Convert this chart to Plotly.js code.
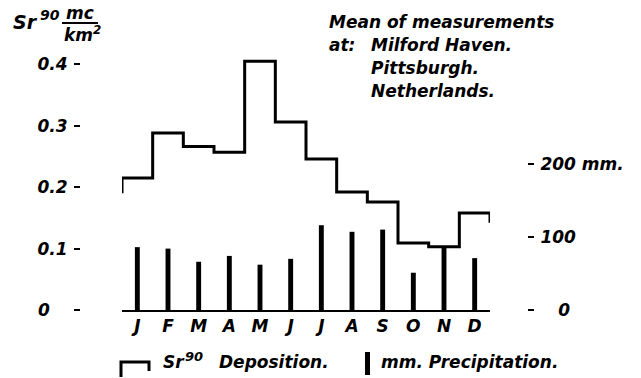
<!DOCTYPE html>
<html>
<head>
<meta charset="utf-8">
<script src="https://cdn.plot.ly/plotly-3.0.1.min.js"></script>
<style>html,body{margin:0;padding:0;background:#fff;}#chart{width:641px;height:378px;}</style>
</head>
<body>
<div id="chart"></div>
<script>
// ---- data ----
const months = ['J','F','M','A','M','J','J','A','S','O','N','D'];
const deposition = [0.215, 0.288, 0.266, 0.257, 0.405, 0.306, 0.246, 0.192, 0.176, 0.109, 0.103, 0.158];
const depositionStart = 0.19;
const depositionEnd = 0.142;
const precipitation = [86, 84, 66, 74, 62, 70, 116, 107, 110, 51, 85, 71];
const leftTickVals = [0, 0.1, 0.2, 0.3, 0.4];
const leftTickText = ['0\u00a0\u00a0\u00a0', '0.1', '0.2', '0.3', '0.4'];
const rightTickVals = [0, 100, 200];
const rightTickText = ['\u00a0\u00a0\u00a00', '100', '200 mm.'];

// ---- layout helpers ----
const W = 641, H = 378, T = 52, B = 310;
const X = px => px / W;
const Y = py => (B - py) / (B - T);
const FONT = 'DejaVu Sans';
const idx = months.map((m, i) => i);

const stepX = [-0.5].concat(idx.map(i => i + 0.5)).concat([11.5]);
const stepY = [depositionStart].concat(deposition).concat([depositionEnd]);

const traces = [
  {
    type: 'bar', x: idx, y: precipitation, yaxis: 'y2', width: 0.16,
    marker: {color: '#000', line: {width: 0}}, name: 'mm. Precipitation.', hoverinfo: 'skip'
  },
  {
    type: 'scatter', mode: 'lines', x: stepX, y: stepY, cliponaxis: false,
    line: {shape: 'vh', color: '#000', width: 3}, name: 'Sr90 Deposition.', hoverinfo: 'skip'
  }
];

const tickFont = {family: FONT, size: 17, color: '#000', style: 'italic', weight: 'bold'};
const txtFont = {family: FONT, size: 17, color: '#000', style: 'italic', weight: 'bold'};

function ann(text, xpx, ypx, anchor, font) {
  return {text: text, x: X(xpx), y: Y(ypx), xref: 'paper', yref: 'paper',
    xanchor: anchor || 'left', yanchor: 'middle', showarrow: false, font: font || txtFont};
}

const layout = {
  width: W, height: H,
  margin: {l: 0, r: 0, t: T, b: H - B, pad: 0},
  paper_bgcolor: '#fff', plot_bgcolor: '#fff',
  showlegend: false,
  xaxis: {
    domain: [X(122), X(490)], range: [-0.5, 11.5],
    tickvals: idx, ticktext: months, ticks: '',
    showline: true, linecolor: '#000', linewidth: 2,
    showgrid: false, zeroline: false, fixedrange: true,
    tickfont: {family: FONT, size: 17, color: '#000', style: 'italic', weight: 'bold'}
  },
  yaxis: {
    range: [0, 0.42], anchor: 'free', position: X(80),
    tickvals: leftTickVals, ticktext: leftTickText,
    ticks: 'outside', ticklen: 6, tickwidth: 2, tickcolor: '#000',
    showline: false, showgrid: false, zeroline: false, fixedrange: true,
    tickfont: tickFont, ticklabelstandoff: 3
  },
  yaxis2: {
    range: [0, 353], overlaying: 'y', side: 'right', anchor: 'free', position: X(527),
    tickvals: rightTickVals, ticktext: rightTickText,
    ticks: 'outside', ticklen: 6, tickwidth: 2, tickcolor: '#000',
    showline: false, showgrid: false, zeroline: false, fixedrange: true,
    tickfont: tickFont, ticklabelstandoff: 3
  },
  annotations: [
    ann('Sr', 11, 22, 'left', {family: FONT, size: 19, color: '#000', style: 'italic', weight: 'bold'}),
    ann('90', 38, 15, 'left', {family: FONT, size: 14, color: '#000', style: 'italic', weight: 'bold'}),
    ann('mc', 80, 13, 'center', {family: FONT, size: 17, color: '#000', style: 'italic', weight: 'bold'}),
    ann('km<sup>2</sup>', 82, 34, 'center', {family: FONT, size: 17, color: '#000', style: 'italic', weight: 'bold'}),
    ann('Mean of measurements', 327, 22),
    ann('at:', 327, 45),
    ann('Milford Haven.', 369, 45),
    ann('Pittsburgh.', 369, 68),
    ann('Netherlands.', 369, 91),
    ann('Sr', 161, 362),
    ann('90', 183, 356, 'left', {family: FONT, size: 13, color: '#000', style: 'italic', weight: 'bold'}),
    ann('Deposition.', 217, 362),
    ann('mm. Precipitation.', 379, 362)
  ],
  shapes: [
    {type: 'line', xref: 'paper', yref: 'paper', x0: X(62), x1: X(98), y0: Y(23), y1: Y(23),
      line: {color: '#000', width: 2}},
    {type: 'path', xref: 'paper', yref: 'paper',
      path: 'M' + X(121) + ',' + Y(377) + ' L' + X(121) + ',' + Y(362) + ' L' + X(149) + ',' + Y(362) + ' L' + X(149) + ',' + Y(371),
      line: {color: '#000', width: 3}},
    {type: 'rect', xref: 'paper', yref: 'paper', x0: X(365), x1: X(370), y0: Y(375), y1: Y(352),
      fillcolor: '#000', line: {width: 0}}
  ]
};

Plotly.newPlot('chart', traces, layout, {staticPlot: true, displayModeBar: false});
</script>
</body>
</html>
